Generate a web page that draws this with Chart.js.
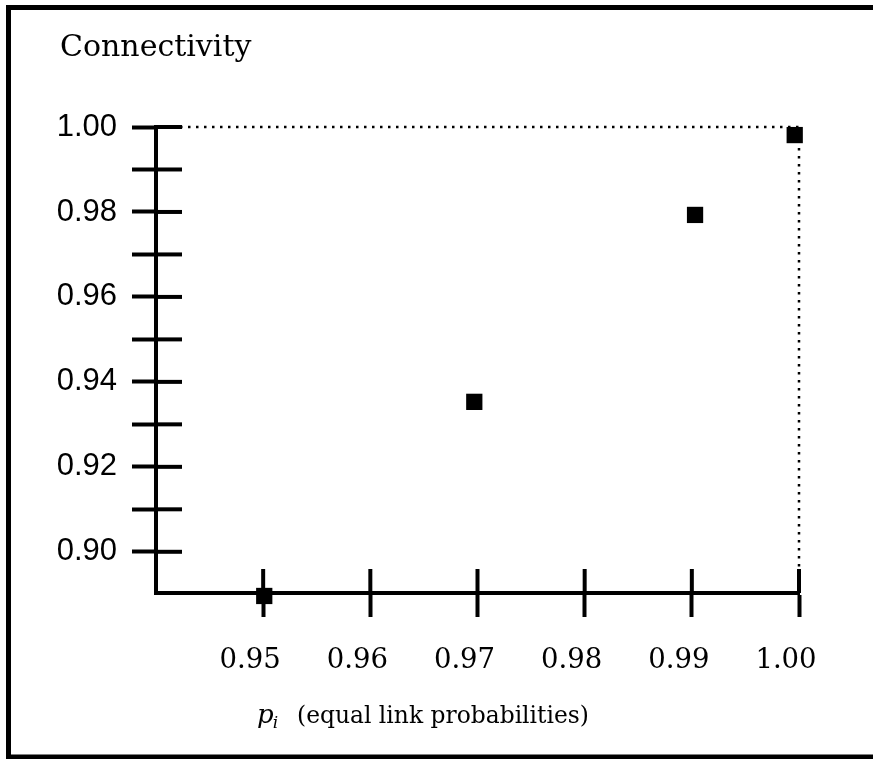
<!DOCTYPE html>
<html>
<head>
<meta charset="utf-8">
<script src="https://cdn.jsdelivr.net/npm/chart.js@4.4.0/dist/chart.umd.min.js"></script>
<style>
html,body{margin:0;padding:0;background:#fff;}
#wrap{width:873px;height:759px;position:relative;}
</style>
</head>
<body>
<div id="wrap"><canvas id="c" width="873" height="759"></canvas></div>
<script>
// ---- data ----
const linkProb = [0.9501, 0.9697, 0.9903, 0.9996];
const connectivity = [0.8896, 0.9353, 0.9793, 0.9981];
const xTickValues = [0.95, 0.96, 0.97, 0.98, 0.99, 1.00];
const yTickValues = [0.90, 0.91, 0.92, 0.93, 0.94, 0.95, 0.96, 0.97, 0.98, 0.99, 1.00];
const yLabelValues = [0.90, 0.92, 0.94, 0.96, 0.98, 1.00];
const refLineX = [0.94, 1.00, 1.00];
const refLineY = [1.00, 1.00, 0.8903];
const chartTitle = 'Connectivity';
const xTitleVar = 'p';
const xTitleSub = 'i';
const xTitleText = '(equal link probabilities)';

const SERIF = "'DejaVu Serif', serif";
const SANS = "'Liberation Sans', Arial, sans-serif";

const decor = {
  id: 'decor',
  beforeDraw(chart) {
    const ctx = chart.ctx;
    ctx.save();
    ctx.fillStyle = '#fff';
    ctx.fillRect(0, 0, chart.width, chart.height);
    ctx.restore();
  },
  afterDraw(chart) {
    const {ctx, chartArea} = chart;
    const x = chart.scales.x, y = chart.scales.y;
    ctx.save();
    ctx.strokeStyle = '#000';
    ctx.lineWidth = 4;
    // inward halves of tick marks (ticks cross the axes)
    yTickValues.forEach(v => {
      const py = y.getPixelForValue(v);
      ctx.beginPath(); ctx.moveTo(chartArea.left, py); ctx.lineTo(chartArea.left + 26, py); ctx.stroke();
    });
    xTickValues.forEach(v => {
      const px = x.getPixelForValue(v);
      ctx.beginPath(); ctx.moveTo(px, chartArea.bottom); ctx.lineTo(px, chartArea.bottom - 24); ctx.stroke();
    });
    // outer frame
    ctx.lineWidth = 5;
    ctx.beginPath();
    ctx.moveTo(880, 7.5); ctx.lineTo(8.5, 7.5); ctx.lineTo(8.5, 757); ctx.lineTo(880, 757);
    ctx.stroke();
    ctx.fillStyle = '#000';
    ctx.textBaseline = 'alphabetic';
    ctx.textAlign = 'left';
    // chart title
    ctx.font = "30px " + SERIF;
    ctx.fillText(chartTitle, 60, 56);
    // x axis title
    const base = 723;
    ctx.font = "italic 26px " + SERIF;
    ctx.fillText(xTitleVar, 257, base);
    const pw = ctx.measureText(xTitleVar).width;
    ctx.font = "italic 17px " + SERIF;
    ctx.fillText(xTitleSub, 256 + pw, base + 5);
    ctx.font = "23.4px " + SERIF;
    ctx.fillText(xTitleText, 297, base);
    ctx.restore();
  }
};

new Chart(document.getElementById('c'), {
  type: 'scatter',
  data: {
    datasets: [
      {
        data: linkProb.map((v, i) => ({x: v, y: connectivity[i]})),
        pointStyle: 'rect',
        pointRadius: 11.5,
        pointHoverRadius: 11.5,
        backgroundColor: '#000',
        borderColor: '#000',
        borderWidth: 0,
        clip: false
      },
      {
        data: refLineX.map((v, i) => ({x: v, y: refLineY[i]})),
        showLine: true,
        pointRadius: 0,
        borderColor: '#000',
        borderWidth: 2.5,
        borderDash: [2.5, 5.5],
        fill: false,
        clip: false
      }
    ]
  },
  options: {
    responsive: false,
    animation: false,
    devicePixelRatio: 1,
    layout: {padding: {left: 30, right: 74, top: 127, bottom: 0}},
    plugins: {
      legend: {display: false},
      tooltip: {enabled: false},
      title: {display: false}
    },
    scales: {
      x: {
        type: 'linear',
        min: 0.94,
        max: 1.00,
        afterBuildTicks: s => { s.ticks = xTickValues.map(v => ({value: v})); },
        afterFit: s => { s.height = 166; },
        border: {display: true, color: '#000', width: 4},
        grid: {display: true, drawOnChartArea: false, drawTicks: true, tickLength: 24, tickWidth: 4, tickColor: '#000', color: '#000'},
        ticks: {
          color: '#000',
          font: {family: SERIF, size: 27.5},
          padding: 27,
          labelOffset: -13,
          maxRotation: 0,
          autoSkip: false,
          callback: v => v.toFixed(2)
        }
      },
      y: {
        type: 'linear',
        min: 0.8903,
        max: 1.00,
        afterBuildTicks: s => { s.ticks = yTickValues.map(v => ({value: v})); },
        afterFit: s => { s.width = 126; },
        border: {display: true, color: '#000', width: 4},
        grid: {display: true, drawOnChartArea: false, drawTicks: true, tickLength: 24, tickWidth: 4, tickColor: '#000', color: '#000'},
        ticks: {
          color: '#000',
          font: {family: SANS, size: 31},
          padding: 15,
          labelOffset: 0,
          autoSkip: false,
          callback: v => yLabelValues.some(l => Math.abs(l - v) < 1e-6) ? v.toFixed(2) : ''
        }
      }
    }
  },
  plugins: [decor]
});
</script>
</body>
</html>
